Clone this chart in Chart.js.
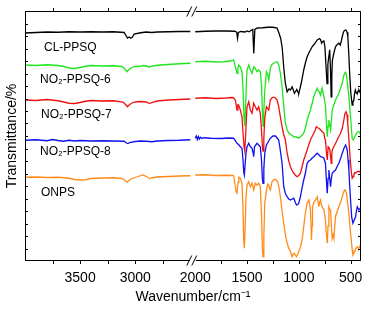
<!DOCTYPE html>
<html>
<head>
<meta charset="utf-8">
<script src="https://cdn.jsdelivr.net/npm/chart.js@4.4.1/dist/chart.umd.min.js"></script>
<style>
    html, body { margin: 0; padding: 0; background: #fff; }
    #wrap { width: 380px; height: 310px; }
</style>
</head>
<body>
<div id="wrap"><canvas id="ftirChart"></canvas></div>
<script>
// broken wavenumber axis: 4000-2500 | 2000-400, right part slightly compressed
const BREAK_HIGH = 2500;
const BREAK_LOW = 2000;
const GAP = 45;
const RIGHT_SCALE = 0.94;

const seriesNames = ['CL-PPSQ', 'NO\u2082-PPSQ-6', 'NO\u2082-PPSQ-7', 'NO\u2082-PPSQ-8', 'ONPS'];
const majorTicks = [3500, 3000, 2000, 1500, 1000, 500];
const minorTicks = [3750, 3250, 2750, 1750, 1250, 750];

// [wavenumber, transmittance]
const clLeft = [[4000,91.2],[3900,91.4],[3800,91.6],[3700,91.5],[3600,91.7],[3500,91.6],[3400,91.7],[3300,91.6],[3200,91.7],[3100,91.4],[3085,90.3],[3070,89.2],[3055,89.6],[3040,89.1],[3025,89.6],[3010,90.8],[2950,91.3],[2900,91.6],[2850,91.4],[2800,91.6],[2700,91.7],[2600,91.8],[2500,91.8]];
const clRight = [[2000,91.7],[1900,91.9],[1800,92.0],[1700,92.0],[1620,91.9],[1600,91.5],[1592,89.0],[1584,91.4],[1560,91.8],[1520,91.6],[1500,92.0],[1480,91.7],[1460,92.3],[1445,92.6],[1435,83.0],[1425,92.6],[1400,93.2],[1350,93.3],[1300,93.5],[1250,93.5],[1210,93.2],[1195,91.5],[1175,89.0],[1160,85],[1145,77],[1130,71.0],[1113,67.7],[1095,68.8],[1081,68.4],[1065,69.7],[1050,68.0],[1043,67.1],[1030,67.9],[1020,68.6],[1008,67.4],[1001,67.1],[990,68.8],[975,71.5],[953,76.4],[935,79.5],[920,81.7],[900,83.5],[872,85.7],[850,86.8],[823,88.4],[800,89.0],[791,88.6],[780,87.1],[770,87.8],[758,88.0],[748,85.5],[738,78],[728,71.0],[720,78.5],[712,81.5],[702,84.5],[694,76],[688,65.7],[682,74],[676,80.4],[660,83.5],[646,85.7],[630,86.6],[614,87.1],[600,86.4],[590,88],[581,89.7],[570,91.5],[560,92.2],[545,92.4],[535,91.5],[527,89.7],[518,83],[508,73.7],[498,67],[485,62.4],[478,63.5],[469,64.4],[462,67],[455,68.4],[445,67.2],[436,66.8],[428,68.0],[420,68.4],[410,67.5],[400,68.0]];

const no6Left = [[4000,78.4],[3900,78.2],[3800,78.5],[3700,78.2],[3650,77.8],[3600,77.2],[3550,77.0],[3500,77.4],[3450,77.9],[3400,78.2],[3300,78.0],[3200,78.1],[3120,77.8],[3090,76.6],[3075,75.7],[3060,76.4],[3040,77.2],[3000,77.8],[2950,77.9],[2920,78.2],[2870,77.6],[2850,77.9],[2800,78.3],[2700,78.6],[2600,78.9],[2500,79.1]];
const no6Right = [[2000,79.7],[1900,79.9],[1800,79.6],[1726,79.7],[1660,80.0],[1629,80.4],[1613,77.7],[1597,75.1],[1589,77.0],[1581,78.4],[1565,77.7],[1549,75.7],[1540,70],[1530,58],[1522,54],[1514,62],[1505,73],[1500,76.4],[1484,78.4],[1468,76.4],[1452,75.1],[1436,77.7],[1420,77.0],[1404,75.7],[1388,76.4],[1372,75.7],[1360,70],[1352,60],[1346,54],[1338,60],[1329,68],[1313,75.7],[1300,74.5],[1291,72.4],[1283,74.5],[1275,77.1],[1260,78.6],[1243,79.1],[1226,79.5],[1210,79.7],[1194,78.4],[1178,75],[1162,69.7],[1146,62],[1130,55.1],[1113,52.5],[1097,51.1],[1070,50.4],[1049,49.7],[1025,49.6],[1001,49.1],[980,49.8],[953,51.1],[935,53.5],[920,56.4],[904,58.4],[888,60.4],[872,63],[856,65.7],[840,67.5],[823,69.1],[815,68.2],[807,67.8],[799,67.4],[791,66.4],[783,67.8],[775,69.1],[760,66],[750,63.8],[743,62.4],[735,56],[726,49.7],[718,54],[710,56.4],[702,54.5],[694,52.4],[686,56],[678,60.4],[662,62.5],[646,64.4],[630,65.8],[614,67.1],[597,69.1],[581,71.1],[570,73.5],[559,75.1],[550,75.5],[540,74.4],[528,70],[517,65.7],[500,57],[485,49],[475,48.4],[462,49.5],[450,50.5],[436,51.5],[420,51.8],[410,51.2],[400,51.8]];

const no7Left = [[4000,64.4],[3900,64.2],[3800,64.6],[3700,64.1],[3650,63.6],[3600,63.1],[3550,63.0],[3500,63.4],[3450,63.9],[3400,64.2],[3300,64.0],[3200,64.1],[3110,63.6],[3085,62.5],[3070,61.7],[3055,62.4],[3030,63.2],[3000,63.6],[2950,63.8],[2900,63.6],[2870,63.0],[2850,63.4],[2800,64.0],[2700,64.4],[2600,64.6],[2500,64.8]];
const no7Right = [[2000,65.1],[1900,65.3],[1800,65.0],[1700,65.2],[1640,65.4],[1629,65.3],[1613,64.4],[1597,60.4],[1589,62.5],[1581,62.4],[1565,60.4],[1549,57.8],[1540,52],[1530,46],[1522,44],[1514,50],[1505,58],[1500,61.7],[1484,63.7],[1468,60.4],[1452,59.1],[1436,63.1],[1420,61.7],[1404,60.4],[1388,61.7],[1372,59.1],[1360,52],[1352,46],[1346,44],[1338,49],[1329,57],[1313,61.7],[1291,60.4],[1275,64.4],[1259,65.3],[1243,65.5],[1226,65.2],[1210,64.4],[1194,61.7],[1178,57.5],[1162,53.7],[1146,50.5],[1130,48.4],[1113,43.1],[1097,40],[1081,37.7],[1065,36.2],[1049,35.1],[1033,34.3],[1017,33.7],[1001,34.2],[985,35.1],[970,37.5],[953,40.4],[937,42.3],[920,44.4],[904,46.5],[888,48.4],[872,49.8],[856,51.1],[840,52.6],[831,53.7],[823,53.4],[807,53.1],[791,52.5],[775,51.8],[758,51.1],[750,49],[743,48.4],[735,44],[726,40.4],[717,45.7],[710,45.5],[701,44.4],[694,42],[688,39.1],[682,42.5],[678,44.4],[662,45.7],[646,47],[630,48.4],[614,49.8],[597,51.1],[581,53],[565,56.5],[555,59],[545,59.7],[535,58.5],[528,55],[517,49],[509,43.5],[501,39.1],[493,35.5],[485,33.1],[477,33.8],[469,34.5],[460,35.3],[452,35.1],[436,35.8],[420,35.9],[410,35.6],[400,36.2]];

const no8Left = [[4000,48.3],[3900,48.5],[3800,48.1],[3750,48.6],[3700,48.2],[3650,47.9],[3600,48.3],[3550,48.0],[3500,48.2],[3400,48.0],[3300,48.1],[3200,48.0],[3100,47.9],[3080,47.2],[3065,47.0],[3050,47.4],[3000,47.8],[2950,48.0],[2900,47.9],[2850,47.7],[2800,48.0],[2700,48.2],[2600,48.3],[2500,48.5]];
const no8Right = [[2000,49.1],[1990,50],[1980,48.6],[1970,49.8],[1960,48.8],[1950,49.5],[1935,49.0],[1920,49.3],[1850,49.1],[1750,49.0],[1680,49.2],[1629,49.1],[1597,47.1],[1580,46.5],[1565,45.7],[1549,45.1],[1540,41],[1532,35.5],[1526,34.4],[1518,39],[1510,43.1],[1500,45.7],[1484,47.1],[1468,45.7],[1452,45.1],[1440,43],[1436,41.7],[1428,45.7],[1404,47.1],[1388,46.4],[1372,45.7],[1360,40],[1352,33],[1346,31.1],[1338,37],[1329,43],[1313,46.4],[1291,48],[1275,49.1],[1250,50],[1226,50],[1210,49.2],[1194,48.4],[1178,44],[1162,39.1],[1146,29.7],[1130,27],[1113,25.7],[1097,24.8],[1081,24.4],[1065,24.8],[1049,25.1],[1035,23.5],[1023,22.4],[1010,22.6],[1001,23.1],[985,25.7],[970,29],[953,32.4],[937,35.1],[920,39.1],[904,40],[888,40.4],[872,41.2],[856,41.7],[840,42.4],[823,43.1],[807,42.5],[791,41.7],[775,41.6],[758,41.1],[750,40],[743,39.1],[735,33],[726,27.1],[718,33],[710,36.4],[702,33],[694,29.7],[686,33],[678,35.1],[662,35.8],[646,36.4],[630,37.8],[614,39.1],[597,41],[581,43.1],[565,45],[549,46.4],[540,45.5],[533,44.4],[525,40.5],[517,36.4],[509,30],[501,24.4],[490,17.5],[478,15.1],[465,16.5],[452,17.7],[444,20],[436,21.7],[428,21],[420,20.4],[410,21],[400,21.7]];

const onpsLeft = [[4000,33.5],[3900,33.6],[3800,33.4],[3700,33.5],[3600,33.1],[3550,32.6],[3500,32.4],[3450,32.5],[3400,33.0],[3300,33.2],[3200,33.3],[3120,33.0],[3090,32.2],[3075,31.5],[3060,32.0],[3040,32.8],[3000,33.4],[2960,34.0],[2930,34.4],[2900,33.8],[2870,33.0],[2850,33.3],[2800,33.6],[2700,33.8],[2600,34.0],[2500,34.1]];
const onpsRight = [[2000,34.4],[1900,34.5],[1800,34.2],[1700,34.3],[1640,34.2],[1629,34],[1613,29.7],[1605,27.5],[1597,27.1],[1587,31.5],[1580,33.5],[1565,33.1],[1549,31.1],[1540,22],[1532,8],[1526,5.1],[1518,14],[1510,25.7],[1500,30.4],[1484,31.7],[1468,29.7],[1452,31.1],[1436,28.4],[1420,31.1],[1404,30.4],[1388,31.1],[1372,29.7],[1360,18],[1352,5],[1346,1.7],[1338,10],[1329,23.1],[1313,28.4],[1300,30.8],[1291,30.4],[1283,29],[1275,28.4],[1259,31.7],[1240,32.6],[1226,32.7],[1204,31.7],[1190,29],[1178,25.7],[1162,20],[1146,15.1],[1130,10.5],[1113,7.1],[1097,5],[1081,3.7],[1065,1.7],[1055,2.8],[1043,3.1],[1033,2.2],[1023,1.7],[1012,2.6],[1001,3.7],[988,5.2],[975,7.1],[962,10.5],[953,13.7],[945,16.5],[937,19.1],[920,23.1],[904,24.4],[896,22.8],[888,20.4],[882,14],[878,8.4],[873,14],[868,21.5],[856,23.5],[839,24.4],[823,25.7],[815,23.5],[807,21.7],[799,23.5],[791,24.4],[783,22.6],[775,21.7],[766,21],[758,20.4],[750,18.5],[743,16.4],[735,11],[726,7.1],[718,14],[710,21.7],[702,20.8],[694,20.4],[686,14],[678,9.1],[670,10.5],[662,9.1],[654,13.5],[646,17.7],[630,19.8],[614,21.7],[597,23.6],[581,25.7],[570,27.3],[559,28.4],[549,28.2],[540,27],[528,23],[517,19.1],[505,13],[494,8.4],[485,4.5],[478,2.4],[470,3],[462,3.7],[450,5],[436,5.7],[428,5.2],[420,5.0],[410,6],[400,7.1]];

const seriesColors = ['#000000', '#1ee61e', '#ee1111', '#1111ee', '#ff8c1a'];

// wavenumber -> position along the broken axis
function toAxis(w) {
    if (w >= BREAK_HIGH) return 4000 - w;
    return (4000 - BREAK_HIGH) + GAP + (BREAK_LOW - w) * RIGHT_SCALE;
}
function fromAxis(u) {
    if (u <= 4000 - BREAK_HIGH) return 4000 - u;
    return BREAK_LOW - (u - (4000 - BREAK_HIGH) - GAP) / RIGHT_SCALE;
}
function buildData(left, right) {
    const pts = left.map(([w, t]) => ({ x: toAxis(w), y: t }));
    pts.push({ x: toAxis(BREAK_HIGH) + GAP / 2, y: null });
    return pts.concat(right.map(([w, t]) => ({ x: toAxis(w), y: t })));
}

const parts = [[clLeft, clRight], [no6Left, no6Right], [no7Left, no7Right], [no8Left, no8Right], [onpsLeft, onpsRight]];

const frameAndLabels = {
    id: 'frameAndLabels',
    afterDraw(chart) {
        const { ctx, chartArea: a, scales: { x, y } } = chart;
        ctx.save();
        ctx.strokeStyle = '#000';
        ctx.lineWidth = 1;
        ctx.strokeRect(a.left + 0.5, a.top + 0.5, a.right - a.left - 1, a.bottom - a.top - 1);

        ctx.beginPath();
        // x ticks, outward on top and bottom
        majorTicks.concat(minorTicks).forEach(w => {
            if (w === BREAK_LOW) return;
            const px = Math.round(x.getPixelForValue(toAxis(w))) + 0.5;
            ctx.moveTo(px, a.bottom); ctx.lineTo(px, a.bottom + 3);
            ctx.moveTo(px, a.top); ctx.lineTo(px, a.top - 3);
        });
        // y ticks, inward on left and right
        for (let v = 5; v < 100; v += 5) {
            const py = Math.round(y.getPixelForValue(v)) + 0.5;
            ctx.moveTo(a.left, py); ctx.lineTo(a.left + 3, py);
            ctx.moveTo(a.right, py); ctx.lineTo(a.right - 3, py);
        }
        ctx.stroke();

        // axis break marks
        const xb = (x.getPixelForValue(toAxis(BREAK_HIGH)) + x.getPixelForValue(toAxis(BREAK_LOW))) / 2;
        [a.top + 0.5, a.bottom - 0.5].forEach(yy => {
            ctx.fillStyle = '#fff';
            ctx.fillRect(xb - 3, yy - 1.5, 6, 3);
            ctx.beginPath();
            ctx.moveTo(xb - 6, yy + 5); ctx.lineTo(xb - 1, yy - 5);
            ctx.moveTo(xb - 1, yy + 5); ctx.lineTo(xb + 4, yy - 5);
            ctx.stroke();
        });

        // series names
        ctx.fillStyle = '#000';
        ctx.font = '12px "Liberation Sans", Arial, sans-serif';
        ctx.textBaseline = 'middle';
        const spots = [[44, 48], [40, 80], [41, 115], [40, 152], [41, 193]];
        seriesNames.forEach((name, i) => {
            ctx.fillText(name, spots[i][0], spots[i][1]);
        });
        ctx.restore();
    }
};

Chart.defaults.font.family = '"Liberation Sans", Arial, sans-serif';
Chart.defaults.color = '#000';

const ctx = document.getElementById('ftirChart').getContext('2d');
new Chart(ctx, {
    type: 'line',
    data: {
        datasets: seriesNames.map((name, i) => ({
            label: name,
            data: buildData(parts[i][0], parts[i][1]),
            borderColor: seriesColors[i],
            borderWidth: 1.3,
            pointRadius: 0,
            fill: false,
            spanGaps: false,
            tension: 0,
            order: seriesNames.length - i,
        }))
    },
    options: {
        animation: false,
        responsive: true,
        maintainAspectRatio: false,
        layout: {
            padding: { top: 11, right: 19, left: 0, bottom: 0 }
        },
        scales: {
            x: {
                type: 'linear',
                min: toAxis(4000),
                max: toAxis(400),
                grid: { display: false, drawTicks: false },
                border: { display: false },
                afterBuildTicks: scale => {
                    scale.ticks = majorTicks.map(w => ({ value: toAxis(w) }));
                },
                afterFit: scale => { scale.height = 49; },
                ticks: {
                    autoSkip: false,
                    maxRotation: 0,
                    padding: 9,
                    font: { size: 14 },
                    callback: value => String(Math.round(fromAxis(value)))
                },
                title: {
                    display: true,
                    text: 'Wavenumber/cm\u207B\u00B9',
                    font: { size: 14 },
                    padding: { top: 0, bottom: 4 }
                }
            },
            y: {
                min: 0,
                max: 100,
                grid: { display: false, drawTicks: false },
                border: { display: false },
                ticks: { display: false },
                afterFit: scale => { scale.width = 25; },
                title: {
                    display: true,
                    text: 'Transmittance/%',
                    font: { size: 14 },
                    padding: { top: 4, bottom: 0 }
                }
            }
        },
        plugins: {
            legend: { display: false },
            tooltip: { enabled: false }
        }
    },
    plugins: [frameAndLabels]
});
</script>
</body>
</html>
